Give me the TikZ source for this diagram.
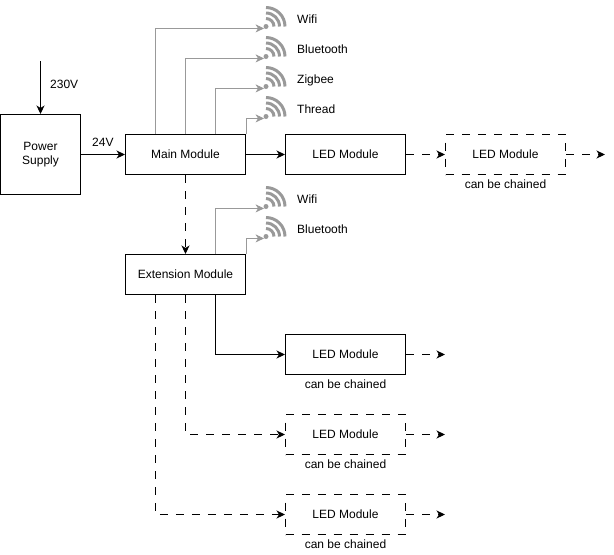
\documentclass[tikz,border=0pt]{standalone}
\usepackage{fontspec}
\setmainfont{Liberation Sans}
\usetikzlibrary{arrows.meta,calc}
\definecolor{signalgray}{HTML}{999999}

\begin{document}
\begin{tikzpicture}
[
    x=1pt, y=-1pt,
    every node/.style={font=\fontsize{12}{14}\selectfont},
    box/.style={draw, line width=1pt, minimum width=120pt, minimum height=40pt, inner sep=0pt, align=center},
    chainbox/.style={box, dash pattern=on 8pt off 8pt},
    psbox/.style={box, minimum width=80pt, minimum height=80pt},
    note/.style={inner sep=0pt, anchor=west, text height=9pt, text depth=3pt},
    chained/.style={inner sep=0pt, text height=9pt, text depth=3pt},
    line/.style={line width=1pt, -{Stealth[length=8.5pt,width=8pt,inset=2.5pt]}},
    chainline/.style={line, dash pattern=on 8pt off 8pt},
    radio/.style={line, draw=signalgray},
    signal/.style={circle, fill=signalgray, inner sep=0pt, minimum size=5pt},
    signalarc/.style={draw=signalgray, line width=3pt},
]
\useasboundingbox (0,0) rectangle (614,555);

\node [psbox] (supply) at (40.5,154.5) {Power\\Supply};
\node [box] (main) at (185.5,154.5) {Main Module};
\node [box] (ledA) at (345.5,154.5) {LED Module};
\node [chainbox] (ledB) at (505.5,154.5) {LED Module};
\node [box] (extension) at (185.5,274.5) {Extension Module};
\node [box] (ledC) at (345.5,354.5) {LED Module};
\node [chainbox] (ledD) at (345.5,434.5) {LED Module};
\node [chainbox] (ledE) at (345.5,514.5) {LED Module};

% radios of the main module
\node [signal] (wifiA) at (266,26.5) {};
\node [signal] (blueA) at (266,56.5) {};
\node [signal] (zigbee) at (266,86.5) {};
\node [signal] (thread) at (266,116.5) {};
% radios of the extension module
\node [signal] (wifiB) at (266,206.5) {};
\node [signal] (blueB) at (266,236.5) {};

\foreach \n in {wifiA,blueA,zigbee,thread,wifiB,blueB}
    \foreach \r in {8,13.5,19}
        \draw [signalarc] ([xshift=\r pt]\n.center) arc [start angle=0, end angle=90, radius=\r pt];

\node [note] (wifiAtext) at (297,20.5) {Wifi};
\node [note] (blueAtext) at (297,50.5) {Bluetooth};
\node [note] (zigbeetext) at (297,80.5) {Zigbee};
\node [note] (threadtext) at (297,110.5) {Thread};
\node [note] (wifiBtext) at (297,200.5) {Wifi};
\node [note] (blueBtext) at (297,230.5) {Bluetooth};

\node [note] (mains) at (50,85) {230V};
\node [note] (low) at (92,143.5) {24V};

\node [chained] (ledBtext) at (505.5,185.5) {can be chained};
\node [chained] (ledCtext) at (345.5,385.5) {can be chained};
\node [chained] (ledDtext) at (345.5,465.5) {can be chained};
\node [chained] (ledEtext) at (345.5,545.5) {can be chained};

\coordinate (grid) at (40.5,61);
\coordinate (endB) at (605,154.5);
\coordinate (endC) at (445,354.5);
\coordinate (endD) at (445,434.5);
\coordinate (endE) at (445,514.5);

\draw [line] (grid) -- (supply);
\draw [line] (supply) -- (main);
\draw [line] (main) -- (ledA);
\draw [chainline] (ledA) -- (ledB);
\draw [chainline] (ledB) -- (endB);
\draw [chainline] (main) -- (extension);

\draw [radio] ($(main.north west)!.25!(main.north east)$) |- (wifiA.south west);
\draw [radio] (main.north) |- (blueA.south west);
\draw [radio] ($(main.north west)!.75!(main.north east)$) |- (zigbee.south west);
\draw [radio] (main.north east) |- (thread.south west);
\draw [radio] ($(extension.north west)!.75!(extension.north east)$) |- (wifiB.south west);
\draw [radio] (extension.north east) |- (blueB.south west);

\draw [line] ($(extension.south west)!.75!(extension.south east)$) |- (ledC);
\draw [chainline] (extension.south) |- (ledD);
\draw [chainline] ($(extension.south west)!.25!(extension.south east)$) |- (ledE);
\draw [chainline] (ledC) -- (endC);
\draw [chainline] (ledD) -- (endD);
\draw [chainline] (ledE) -- (endE);
\end{tikzpicture}
\end{document}
